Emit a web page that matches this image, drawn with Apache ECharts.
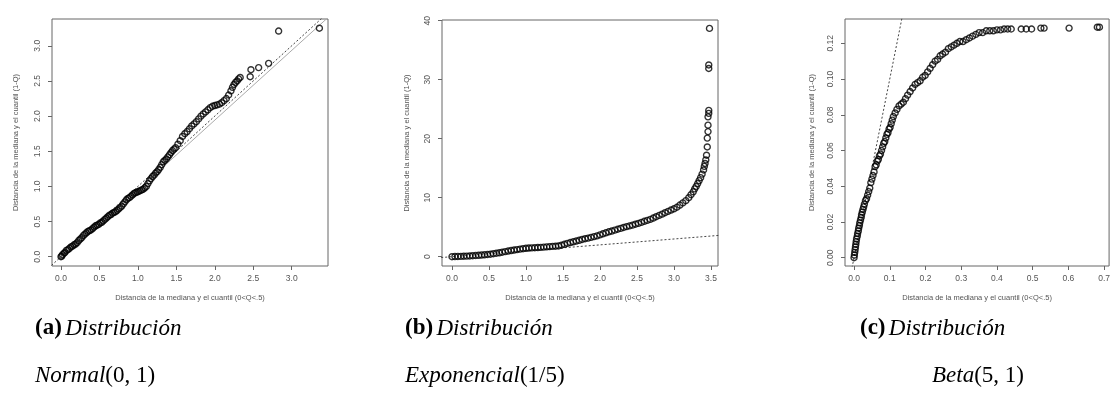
<!DOCTYPE html>
<html>
<head>
<meta charset="utf-8">
<script src="https://cdn.jsdelivr.net/npm/echarts@6/dist/echarts.min.js"></script>
<style>
  html, body { margin: 0; padding: 0; background: #fff; }
  #chart { width: 1113px; height: 419px; }
</style>
</head>
<body>
<div id="chart"></div>
<script>
// Distance from the median to the lower quantile (x) vs. distance to the upper quantile (y)

// (a) Normal(0,1)
const normalPts = [
  [0,0],[0.01,0.01],[0.02,0.03],[0.04,0.05],[0.05,0.06],[0.07,0.09],[0.09,0.10],[0.11,0.12],
  [0.13,0.14],[0.15,0.15],[0.17,0.17],[0.19,0.18],[0.21,0.20],[0.23,0.23],[0.25,0.25],[0.27,0.27],
  [0.29,0.30],[0.31,0.32],[0.33,0.34],[0.35,0.36],[0.37,0.37],[0.39,0.38],[0.41,0.40],[0.43,0.42],
  [0.45,0.44],[0.47,0.45],[0.49,0.46],[0.51,0.48],[0.53,0.49],[0.55,0.51],[0.57,0.53],[0.59,0.55],
  [0.61,0.57],[0.63,0.59],[0.65,0.60],[0.67,0.62],[0.69,0.63],[0.71,0.64],[0.73,0.66],[0.75,0.68],
  [0.77,0.70],[0.79,0.72],[0.81,0.75],[0.83,0.78],[0.85,0.81],[0.87,0.83],[0.89,0.84],[0.91,0.86],
  [0.93,0.88],[0.95,0.90],[0.97,0.91],[0.99,0.92],[1.01,0.93],[1.03,0.94],[1.05,0.95],[1.07,0.96],
  [1.09,0.98],[1.11,1.00],[1.13,1.04],[1.15,1.08],[1.17,1.11],[1.19,1.14],[1.21,1.16],[1.23,1.19],
  [1.25,1.21],[1.27,1.24],[1.29,1.27],[1.31,1.31],[1.33,1.35],[1.35,1.37],[1.37,1.39],[1.39,1.42],
  [1.41,1.45],[1.43,1.48],[1.45,1.51],[1.47,1.53],[1.49,1.55],[1.52,1.60],[1.55,1.65],[1.58,1.71],
  [1.61,1.75],[1.64,1.78],[1.67,1.82],[1.70,1.86],[1.73,1.89],[1.76,1.92],[1.79,1.96],[1.82,2.00],
  [1.85,2.03],[1.88,2.06],[1.91,2.09],[1.94,2.12],[1.97,2.14],[2.00,2.15],[2.03,2.16],[2.06,2.17],
  [2.09,2.19],[2.12,2.22],[2.15,2.25],[2.18,2.30],[2.21,2.36],[2.23,2.41],[2.25,2.45],[2.27,2.48],
  [2.29,2.50],[2.31,2.53],[2.33,2.55],[2.46,2.56],[2.47,2.66],[2.57,2.69],[2.70,2.75],[2.83,3.21],
  [3.36,3.25]
];

// (b) Exponencial(1/5)
const expoPts = [
  [0.00,0.00],[0.04,0.02],[0.08,0.04],[0.12,0.06],[0.16,0.08],[0.20,0.10],[0.24,0.12],[0.28,0.16],
  [0.32,0.20],[0.36,0.24],[0.40,0.28],[0.44,0.32],[0.48,0.37],[0.52,0.42],[0.56,0.50],[0.60,0.58],
  [0.64,0.66],[0.68,0.76],[0.72,0.86],[0.76,0.96],[0.80,1.04],[0.84,1.12],[0.88,1.20],[0.92,1.28],
  [0.96,1.35],[1.00,1.42],[1.04,1.46],[1.08,1.49],[1.12,1.52],[1.16,1.55],[1.20,1.58],[1.24,1.62],
  [1.28,1.66],[1.32,1.70],[1.36,1.74],[1.40,1.78],[1.44,1.82],[1.48,1.95],[1.52,2.10],[1.56,2.25],
  [1.60,2.40],[1.64,2.52],[1.68,2.65],[1.72,2.78],[1.76,2.92],[1.80,3.05],[1.84,3.15],[1.88,3.28],
  [1.92,3.40],[1.96,3.52],[2.00,3.70],[2.04,3.88],[2.08,4.05],[2.12,4.22],[2.16,4.35],[2.20,4.50],
  [2.24,4.65],[2.28,4.80],[2.32,4.95],[2.36,5.10],[2.40,5.22],[2.44,5.35],[2.48,5.50],[2.52,5.65],
  [2.56,5.82],[2.60,6.00],[2.64,6.15],[2.68,6.32],[2.72,6.55],[2.76,6.78],[2.80,7.00],[2.84,7.22],
  [2.88,7.45],[2.92,7.68],[2.96,7.90],[3.00,8.12],[3.04,8.38],[3.08,8.75],[3.12,9.12],[3.16,9.50],
  [3.20,10.0],[3.23,10.5],[3.26,11.0],[3.28,11.5],[3.30,11.9],[3.32,12.4],[3.34,12.9],[3.36,13.4],
  [3.38,14.0],[3.40,14.7],[3.41,15.3],[3.42,15.8],[3.43,16.4],[3.44,17.2],[3.45,18.6],[3.45,20.1],
  [3.46,21.2],[3.46,22.3],[3.46,23.7],[3.47,24.3],[3.47,24.8],[3.47,31.9],[3.47,32.5],[3.48,38.7]
];

// (c) Beta(5,1)
const betaPts = [
  [0,0],[0.001,0.0015],[0.002,0.003],[0.003,0.0045],[0.004,0.006],[0.005,0.0075],[0.006,0.009],
  [0.007,0.0105],[0.009,0.012],[0.010,0.0135],[0.012,0.015],[0.013,0.0165],[0.015,0.018],
  [0.016,0.0195],[0.018,0.021],[0.020,0.0225],[0.021,0.024],[0.023,0.0255],[0.025,0.027],
  [0.027,0.0285],[0.029,0.030],[0.032,0.032],[0.035,0.033],[0.038,0.035],[0.041,0.037],
  [0.044,0.039],[0.047,0.042],[0.050,0.044],[0.053,0.046],[0.056,0.048],[0.059,0.051],
  [0.062,0.052],[0.065,0.054],[0.068,0.055],[0.071,0.057],[0.074,0.058],[0.077,0.060],
  [0.080,0.062],[0.083,0.064],[0.086,0.065],[0.089,0.067],[0.092,0.069],[0.095,0.070],
  [0.098,0.072],[0.101,0.073],[0.104,0.075],[0.107,0.077],[0.110,0.079],[0.115,0.081],
  [0.120,0.083],[0.126,0.085],[0.132,0.086],[0.138,0.087],[0.144,0.089],[0.150,0.091],
  [0.157,0.093],[0.164,0.095],[0.171,0.097],[0.178,0.098],[0.185,0.099],[0.192,0.101],
  [0.199,0.102],[0.206,0.104],[0.213,0.106],[0.220,0.108],[0.227,0.110],[0.234,0.111],
  [0.241,0.113],[0.248,0.114],[0.256,0.115],[0.264,0.117],[0.272,0.118],[0.280,0.119],
  [0.288,0.120],[0.296,0.121],[0.305,0.121],[0.314,0.122],[0.323,0.123],[0.332,0.124],
  [0.341,0.125],[0.350,0.126],[0.360,0.126],[0.370,0.127],[0.380,0.127],[0.390,0.127],
  [0.400,0.1275],[0.410,0.1275],[0.420,0.128],[0.430,0.128],[0.440,0.128],[0.468,0.128],
  [0.482,0.128],[0.497,0.128],[0.523,0.1285],[0.532,0.1285],[0.602,0.1285],[0.681,0.129],
  [0.687,0.129]
];

// Reference lines y = x (and the fitted line in panel a)
const identityA = [[-0.2, -0.2], [3.6, 3.6]];
const fitA = [[0, -0.04], [3.5, 3.43]];
const identityB = [[-0.2, -0.2], [3.7, 3.7]];
const identityC = [[-0.01, -0.01], [0.2, 0.2]];

// Tick labels
const ticksXA = [0, 0.5, 1.0, 1.5, 2.0, 2.5, 3.0];
const ticksYA = [0, 0.5, 1.0, 1.5, 2.0, 2.5, 3.0];
const ticksXB = [0, 0.5, 1.0, 1.5, 2.0, 2.5, 3.0, 3.5];
const ticksYB = [0, 10, 20, 30, 40];
const ticksXC = [0, 0.1, 0.2, 0.3, 0.4, 0.5, 0.6, 0.7];
const ticksYC = [0, 0.02, 0.04, 0.06, 0.08, 0.10, 0.12];

const xTitle = 'Distancia de la mediana y el cuantil (0<Q<.5)';
const yTitle = 'Distancia de la mediana y el cuantil (1-Q)';

const captionTags = ['(a)', '(b)', '(c)'];
const captionWord = 'Distribución';
const captionNames = ['Normal', 'Exponencial', 'Beta'];
const captionParams = ['(0, 1)', '(1/5)', '(5, 1)'];

const TXT = '#555';
const fontSans = 'Liberation Sans, Arial, sans-serif';
const fontSerif = 'Liberation Serif, serif';
const CAP = 23;

function xAxisFor(i, min, max, ticks, dec) {
  return {
    type: 'value', gridIndex: i, min: min, max: max,
    axisLine: { show: false, onZero: false },
    axisTick: { show: true, customValues: ticks, length: 4, lineStyle: { color: '#666', width: 1 } },
    axisLabel: { customValues: ticks, formatter: v => v.toFixed(dec), fontSize: 8.5,
                 color: TXT, margin: 8, fontFamily: fontSans },
    splitLine: { show: false },
    name: xTitle, nameLocation: 'middle', nameGap: 28,
    nameTextStyle: { fontSize: 7.5, color: TXT, fontFamily: fontSans }
  };
}
function yAxisFor(i, min, max, ticks, dec, gap) {
  return {
    type: 'value', gridIndex: i, min: min, max: max,
    axisLine: { show: false, onZero: false },
    axisTick: { show: true, customValues: ticks, length: 4, lineStyle: { color: '#666', width: 1 } },
    axisLabel: { customValues: ticks, formatter: v => v.toFixed(dec), fontSize: 8.5,
                 color: TXT, margin: 10, rotate: 90, fontFamily: fontSans },
    splitLine: { show: false },
    name: yTitle, nameLocation: 'middle', nameGap: gap, nameRotate: 90,
    nameTextStyle: { fontSize: 7.5, color: TXT, fontFamily: fontSans }
  };
}

function pointsSeries(i, data) {
  return {
    type: 'scatter', xAxisIndex: i, yAxisIndex: i, data: data,
    symbol: 'circle', symbolSize: 6,
    itemStyle: { color: 'rgba(0,0,0,0)', borderColor: '#000', borderWidth: 1.4 },
    z: 3
  };
}
function lineSeries(i, data, color, type) {
  return {
    type: 'line', xAxisIndex: i, yAxisIndex: i, data: data, symbol: 'none',
    lineStyle: { color: color, width: 1, type: type }, clip: true, z: 2
  };
}

function caption(i, left, top, paramLeft) {
  return [
    {
      type: 'text', left: left, top: top,
      style: {
        text: '{b|' + captionTags[i] + '} {i|' + captionWord + '}',
        rich: {
          b: { fontFamily: fontSerif, fontWeight: 'bold', fontSize: CAP, fill: '#000' },
          i: { fontFamily: fontSerif, fontStyle: 'italic', fontSize: CAP, fill: '#000' }
        }
      }
    },
    {
      type: 'text', left: paramLeft, top: top + 47,
      style: {
        text: '{i|' + captionNames[i] + '}{r|' + captionParams[i] + '}',
        rich: {
          i: { fontFamily: fontSerif, fontStyle: 'italic', fontSize: CAP, fill: '#000' },
          r: { fontFamily: fontSerif, fontSize: CAP, fill: '#000' }
        }
      }
    }
  ];
}

const chart = echarts.init(document.getElementById('chart'), null, { renderer: 'canvas' });
chart.setOption({
  animation: false,
  backgroundColor: '#fff',
  grid: [
    { left: 52, top: 19, width: 276, height: 247, show: true, borderColor: '#666', borderWidth: 1 },
    { left: 442, top: 20, width: 276, height: 246, show: true, borderColor: '#666', borderWidth: 1 },
    { left: 845, top: 19, width: 272, height: 247, show: true, borderColor: '#666', borderWidth: 1 }
  ],
  xAxis: [
    xAxisFor(0, -0.117, 3.472, ticksXA, 1),
    xAxisFor(1, -0.135, 3.595, ticksXB, 1),
    xAxisFor(2, -0.0253, 0.714, ticksXC, 1)
  ],
  yAxis: [
    yAxisFor(0, -0.132, 3.381, ticksYA, 1, 32),
    yAxisFor(1, -1.58, 40.12, ticksYB, 0, 31),
    yAxisFor(2, -0.00465, 0.1336, ticksYC, 2, 29)
  ],
  series: [
    lineSeries(0, fitA, '#aaa', 'solid'),
    lineSeries(0, identityA, '#444', [2, 2]),
    pointsSeries(0, normalPts),
    lineSeries(1, identityB, '#444', [2, 2]),
    pointsSeries(1, expoPts),
    lineSeries(2, identityC, '#444', [2, 2]),
    pointsSeries(2, betaPts)
  ],
  graphic: [].concat(
    caption(0, 35, 317, 35),
    caption(1, 405, 317, 405),
    caption(2, 860, 317, 932)
  )
});
</script>
</body>
</html>
